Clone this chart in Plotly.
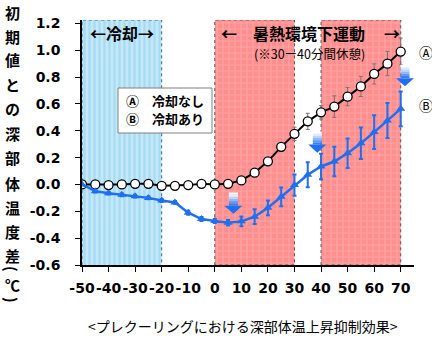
import plotly.graph_objects as go

# Elapsed time (minutes) relative to the start of exercise
minutes = [-50, -45, -40, -35, -30, -25, -20, -15, -10, -5, 0, 5, 10,
           15, 20, 25, 30, 35, 40, 45, 50, 55, 60, 65, 70]

# Change in core body temperature from the initial value (deg C)
no_cooling = [0.0, 0.0, -0.005, 0.0, 0.005, 0.005, -0.01, -0.01, -0.005, 0.005, 0.0, 0.005, 0.03,
              0.088, 0.172, 0.28, 0.377, 0.47, 0.537, 0.58, 0.654, 0.73, 0.823, 0.90, 0.99]
no_cooling_err = [0, 0, 0, 0, 0, 0, 0, 0, 0, 0, 0, 0, 0.01,
                  0.015, 0.02, 0.03, 0.05, 0.06, 0.05, 0.08, 0.068, 0.075, 0.075, 0.09, 0.1]

with_cooling = [0.0, -0.05, -0.065, -0.077, -0.087, -0.10, -0.12, -0.134, -0.21, -0.258, -0.272, -0.285, -0.275,
                -0.24, -0.174, -0.092, -0.005, 0.072, 0.134, 0.171, 0.233, 0.307, 0.39, 0.476, 0.563]
with_cooling_err = [0, 0.01, 0.01, 0.01, 0.01, 0.01, 0.01, 0.01, 0.015, 0.015, 0.015, 0.02, 0.037,
                    0.055, 0.055, 0.07, 0.08, 0.093, 0.095, 0.11, 0.11, 0.118, 0.125, 0.13, 0.13]

series_labels = ["Ⓐ　冷却なし", "Ⓑ　冷却あり"]

cooling_period = [-50, -20]
exercise_periods = [[0, 30], [40, 70]]

y_ticks = [-0.6, -0.4, -0.2, 0.0, 0.2, 0.4, 0.6, 0.8, 1.0, 1.2]
x_ticks = [-50, -40, -30, -20, -10, 0, 10, 20, 30, 40, 50, 60, 70]

Y_MIN, Y_MAX = -0.6, 1.225
JP = "Noto Sans CJK JP"
NUM = "DejaVu Sans"
BLUE = "#1f6ff0"

W, H = 432, 339
L, R, T, B = 82, 18, 20, 74
pw, ph = W - L - R, H - T - B


def px_to_paper(px, py):
    """Pixel position in the page -> paper coordinates of the plot area."""
    return (px - L) / pw, (H - B - py) / ph


fig = go.Figure()

# Pre-cooling period: light blue vertical stripes
x0, x1 = cooling_period
fig.add_trace(go.Scatter(
    x=[x0, x0, x1, x1], y=[Y_MIN, Y_MAX, Y_MAX, Y_MIN],
    fill="toself", mode="lines", fillcolor="#c4e8f8",
    fillpattern=dict(shape="|", bgcolor="#c4e8f8", fgcolor="#86cfee", size=5, solidity=0.45),
    line=dict(color="#2c6a8a", width=1, dash="dot"),
    hoverinfo="skip", showlegend=False))

# Exercise in a hot environment: pink checked pattern
for a, b in exercise_periods:
    fig.add_trace(go.Scatter(
        x=[a, a, b, b, a], y=[Y_MIN, Y_MAX, Y_MAX, Y_MIN, Y_MIN],
        fill="toself", mode="lines", fillcolor="#ff9d9d",
        fillpattern=dict(shape="+", bgcolor="#ff8e8e", fgcolor="#ffbaba", size=6, solidity=0.35),
        line=dict(color="#555555", width=1, dash="dot"),
        hoverinfo="skip", showlegend=False))

# (A) no cooling
fig.add_trace(go.Scatter(
    x=minutes, y=no_cooling, mode="lines+markers",
    line=dict(color="black", width=2),
    marker=dict(symbol="circle", size=9, color="white", line=dict(color="black", width=1.3)),
    error_y=dict(type="data", array=no_cooling_err, color="#8a6f6f", thickness=1, width=2),
    showlegend=False))

# (B) with cooling
fig.add_trace(go.Scatter(
    x=minutes, y=with_cooling, mode="lines+markers",
    line=dict(color=BLUE, width=2.5),
    marker=dict(symbol="triangle-up", size=8, color=BLUE),
    error_y=dict(type="data", array=with_cooling_err, color=BLUE, thickness=2, width=2),
    showlegend=False))

# Downward gradient arrows marking the suppressed rise
arrow_spots = [(7.0, -0.06), (38.6, 0.395), (71.6, 0.89)]
shaft_w, head_w = 1.7, 3.4
shaft_h, head_h = 0.098, 0.06
grad = ["#ffffff", "#e3eefe", "#bcd5fb", "#8fb8f8", "#5f98f4", "#3a80f1"]
shapes = []
for cx, top in arrow_spots:
    n = len(grad)
    for i, c in enumerate(grad):
        shapes.append(dict(type="rect", xref="x", yref="y", layer="above",
                           x0=cx - shaft_w, x1=cx + shaft_w,
                           y0=top - shaft_h * (i + 1) / n, y1=top - shaft_h * i / n,
                           fillcolor=c, line=dict(width=0)))
    yb = top - shaft_h
    shapes.append(dict(type="path", xref="x", yref="y", layer="above",
                       path=f"M {cx - head_w} {yb} L {cx + head_w} {yb} L {cx} {yb - head_h} Z",
                       fillcolor="#1f6ff0", line=dict(width=0)))

# Legend frame
lx0, ly0 = px_to_paper(118, 133)
lx1, ly1 = px_to_paper(212, 88)
shapes.append(dict(type="rect", xref="paper", yref="paper", layer="above",
                   x0=lx0, x1=lx1, y0=ly0, y1=ly1,
                   fillcolor="white", line=dict(color="#808080", width=1)))

ann = []
# Period labels
ann.append(dict(x=(x0 + x1) / 2, y=1.13, xref="x", yref="y", showarrow=False,
                text="<b>←冷却→</b>", font=dict(family=JP, size=16, color="black")))
ann.append(dict(x=exercise_periods[0][0] + 1.5, y=1.13, xref="x", yref="y", showarrow=False,
                xanchor="left", text="<b>←</b>", font=dict(family=JP, size=16, color="black")))
ann.append(dict(x=exercise_periods[1][1] + 0.5, y=1.13, xref="x", yref="y", showarrow=False,
                xanchor="right", text="<b>→</b>", font=dict(family=JP, size=16, color="black")))
ann.append(dict(x=35.5, y=1.13, xref="x", yref="y", showarrow=False,
                text="<b>暑熱環境下運動</b>", font=dict(family=JP, size=16, color="black")))
ann.append(dict(x=35.5, y=0.975, xref="x", yref="y", showarrow=False,
                text="(※30ー40分間休憩)", font=dict(family=JP, size=12.5, color="black")))

# Series markers at the right end
ann.append(dict(x=1.01, y=no_cooling[-1], xref="paper", yref="y", showarrow=False, xanchor="left",
                text="Ⓐ", font=dict(family=JP, size=14, color="black")))
ann.append(dict(x=1.01, y=0.59, xref="paper", yref="y", showarrow=False, xanchor="left",
                text="Ⓑ", font=dict(family=JP, size=14, color="black")))

# Legend entries
for label, py in zip(series_labels, [101, 119]):
    px_, py_ = px_to_paper(124, py)
    ann.append(dict(x=px_, y=py_, xref="paper", yref="paper", showarrow=False,
                    xanchor="left", yanchor="middle",
                    text=f"<b>{label}</b>", font=dict(family=JP, size=13, color="black")))

# Vertical y-axis title, one character per row (brackets turned sideways)
title_chars = list("初期値との深部体温度差") + ["(", "℃", ")"]
title_rows = [12, 36, 60, 84, 108, 133, 157, 183, 207, 231, 255, 269, 284, 300]
for ch, py in zip(title_chars, title_rows):
    px_, py_ = px_to_paper(12, py)
    rotated = ch in "()"
    ann.append(dict(x=px_, y=py_, xref="paper", yref="paper", showarrow=False,
                    xanchor="center", yanchor="middle", textangle=90 if rotated else 0,
                    text=f"<b>{ch}</b>",
                    font=dict(family=JP, size=15, color="black")))

# Unit and caption
ann.append(dict(x=72.5, y=-0.72, xref="x", yref="y", showarrow=False,
                text="<b>(分)</b>", font=dict(family=JP, size=9, color="black")))
cx_, cy_ = px_to_paper(243, 326)
ann.append(dict(x=cx_, y=cy_, xref="paper", yref="paper", showarrow=False,
                xanchor="center", yanchor="middle",
                text="<プレクーリングにおける深部体温上昇抑制効果>",
                font=dict(family=JP, size=14, color="black")))

fig.update_layout(
    width=W, height=H,
    margin=dict(l=L, r=R, t=T, b=B),
    paper_bgcolor="white", plot_bgcolor="white",
    shapes=shapes, annotations=ann,
    xaxis=dict(range=[-50, 75], tickvals=x_ticks, ticktext=[str(v) for v in x_ticks],
               tickangle=0,
               showgrid=False, zeroline=False, showline=True, linecolor="black", linewidth=1.5,
               ticks="outside", ticklen=5, tickcolor="black", tickwidth=1.2,
               tickfont=dict(family=NUM, size=14, color="black", weight="bold"),
               ticklabelstandoff=4),
    yaxis=dict(range=[Y_MIN, Y_MAX], tickvals=y_ticks, ticktext=[f"{v:.1f}" for v in y_ticks],
               showgrid=False, zeroline=False, showline=True, linecolor="black", linewidth=1.5,
               ticks="outside", ticklen=5, tickcolor="black", tickwidth=1.2,
               tickfont=dict(family=NUM, size=14, color="black", weight="bold"),
               ticklabelstandoff=12),
)

fig.write_html("out.html")
